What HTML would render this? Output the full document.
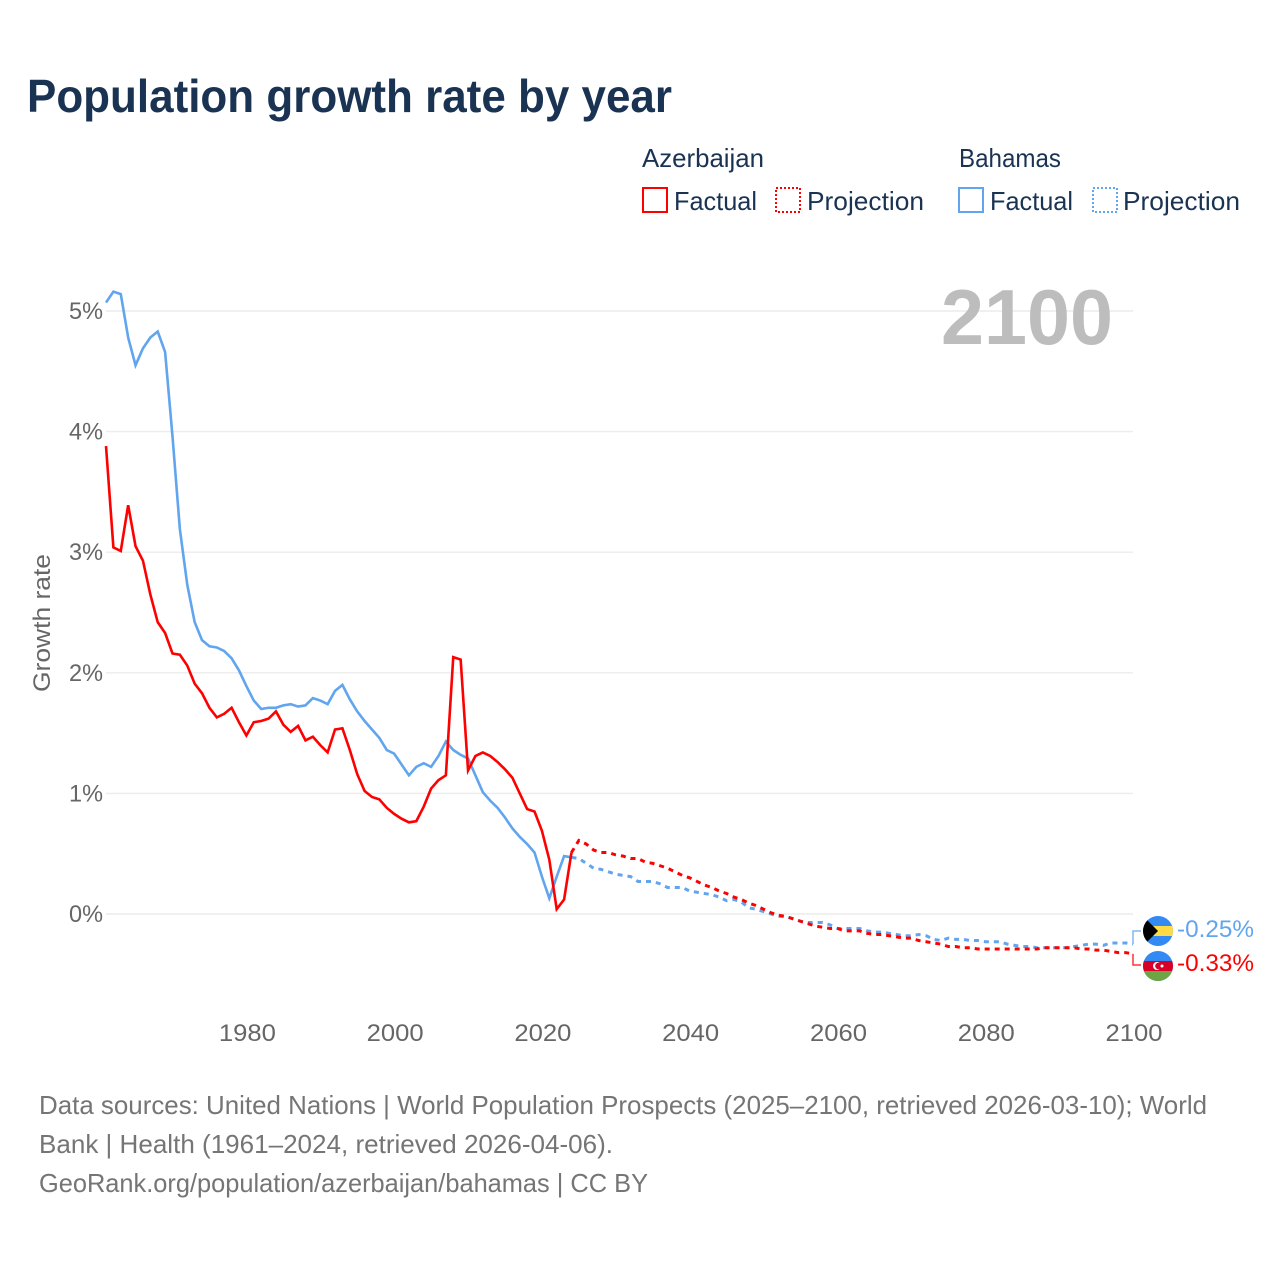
<!DOCTYPE html>
<html lang="en">
<head>
<meta charset="utf-8">
<title>Population growth rate by year</title>
<style>
html,body{margin:0;padding:0;background:#fff;width:1280px;height:1280px;overflow:hidden}
svg{display:block;font-family:"Liberation Sans",sans-serif}
.leg{font-size:26px;fill:#1a3353}
.foot{font-size:26px;fill:#757575}
.tick{font-size:24px;fill:#666}
</style>
</head>
<body>
<svg id="chart" width="1280" height="1280" viewBox="0 0 1280 1280" xmlns="http://www.w3.org/2000/svg">
  <defs>
    <clipPath id="clip-bs"><circle cx="1158" cy="931" r="15"/></clipPath>
    <clipPath id="clip-az"><circle cx="1158" cy="966" r="15"/></clipPath>
  </defs>
  <text x="27" y="112" font-size="46" font-weight="700" fill="#1a3353" textLength="645" lengthAdjust="spacingAndGlyphs">Population growth rate by year</text>

  <g>
    <text class="leg" x="642" y="167" textLength="122" lengthAdjust="spacingAndGlyphs">Azerbaijan</text>
    <rect x="643" y="188" width="24" height="24" fill="none" stroke="#f00" stroke-width="2"/>
    <text class="leg" x="674" y="210" textLength="83" lengthAdjust="spacingAndGlyphs">Factual</text>
    <rect x="776" y="188" width="24" height="24" fill="none" stroke="#f00" stroke-width="2" stroke-dasharray="2 2"/>
    <text class="leg" x="807" y="210" textLength="117" lengthAdjust="spacingAndGlyphs">Projection</text>
    <text class="leg" x="959" y="167" textLength="102" lengthAdjust="spacingAndGlyphs">Bahamas</text>
    <rect x="959" y="188" width="24" height="24" fill="none" stroke="#60a5ee" stroke-width="2"/>
    <text class="leg" x="990" y="210" textLength="83" lengthAdjust="spacingAndGlyphs">Factual</text>
    <rect x="1093" y="188" width="24" height="24" fill="none" stroke="#60a5ee" stroke-width="2" stroke-dasharray="2 2"/>
    <text class="leg" x="1123" y="210" textLength="117" lengthAdjust="spacingAndGlyphs">Projection</text>
  </g>

  <g id="grid"></g>
  <g id="yticks"></g>
  <g id="xticks"></g>
  <text transform="translate(50,692) rotate(-90)" font-size="24" fill="#666" textLength="138" lengthAdjust="spacingAndGlyphs">Growth rate</text>
  <text x="941" y="344" font-size="78" font-weight="700" fill="#bdbdbd" textLength="172" lengthAdjust="spacingAndGlyphs">2100</text>

  <g id="series"></g>

  <g>
    <g clip-path="url(#clip-bs)">
      <rect x="1143" y="916" width="30" height="30" fill="#338af3"/>
      <rect x="1143" y="926" width="30" height="10" fill="#ffda44"/>
      <polygon points="1143,916 1158,931 1143,946" fill="#000"/>
    </g>
    <text x="1177" y="937" font-size="24" fill="#60a5ee" textLength="77" lengthAdjust="spacingAndGlyphs">-0.25%</text>
  </g>
  <g>
    <g clip-path="url(#clip-az)">
      <rect x="1143" y="951" width="30" height="30" fill="#338af3"/>
      <rect x="1143" y="961" width="30" height="10" fill="#d80027"/>
      <rect x="1143" y="971" width="30" height="10" fill="#6da544"/>
      <circle cx="1157" cy="966" r="4" fill="#fff"/>
      <circle cx="1158.4" cy="966" r="3.2" fill="#d80027"/>
      <circle cx="1162" cy="966" r="1.5" fill="#fff"/>
    </g>
    <text x="1177" y="971" font-size="24" fill="#f00" textLength="77" lengthAdjust="spacingAndGlyphs">-0.33%</text>
  </g>

  <g>
    <text class="foot" x="39" y="1114" textLength="1168" lengthAdjust="spacingAndGlyphs">Data sources: United Nations | World Population Prospects (2025–2100, retrieved 2026-03-10); World</text>
    <text class="foot" x="39" y="1153" textLength="574" lengthAdjust="spacingAndGlyphs">Bank | Health (1961–2024, retrieved 2026-04-06).</text>
    <text class="foot" x="39" y="1192" textLength="609" lengthAdjust="spacingAndGlyphs">GeoRank.org/population/azerbaijan/bahamas | CC BY</text>
  </g>
</svg>
<script>
const factualStartYear = 1961;
const projectionStartYear = 2024;
const yTickValues = [0, 1, 2, 3, 4, 5];
const yTickLabels = ["0%", "1%", "2%", "3%", "4%", "5%"];
const xTickValues = [1980, 2000, 2020, 2040, 2060, 2080, 2100];
const xTickLabels = ["1980", "2000", "2020", "2040", "2060", "2080", "2100"];

// Growth rate in %, 1961–2024
const azerbaijanFactual = [3.88,3.04,3.01,3.39,3.05,2.93,2.65,2.42,2.33,2.16,
  2.15,2.06,1.91,1.83,1.71,1.63,1.66,1.71,1.59,1.48,
  1.59,1.60,1.62,1.68,1.57,1.51,1.56,1.44,1.47,1.40,
  1.34,1.53,1.54,1.36,1.16,1.02,0.97,0.95,0.88,0.83,
  0.79,0.76,0.77,0.89,1.04,1.11,1.15,2.13,2.11,1.19,
  1.31,1.34,1.31,1.26,1.20,1.13,1.00,0.87,0.85,0.69,
  0.45,0.04,0.12,0.51];
const bahamasFactual = [5.07,5.16,5.14,4.78,4.55,4.69,4.78,4.83,4.66,3.96,
  3.19,2.73,2.42,2.27,2.22,2.21,2.18,2.12,2.02,1.89,
  1.77,1.70,1.71,1.71,1.73,1.74,1.72,1.73,1.79,1.77,
  1.74,1.85,1.90,1.78,1.68,1.60,1.53,1.46,1.36,1.33,
  1.24,1.15,1.22,1.25,1.22,1.31,1.43,1.36,1.32,1.29,
  1.15,1.01,0.94,0.88,0.80,0.71,0.64,0.58,0.51,0.31,
  0.13,0.31,0.48,0.47];

// Growth rate in %, 2024–2100
const azerbaijanProjection = [0.51,0.61,0.58,0.53,0.51,0.51,0.49,0.48,0.46,0.46,
  0.43,0.42,0.40,0.38,0.35,0.32,0.30,0.27,0.24,0.22,
  0.19,0.17,0.14,0.12,0.09,0.07,0.04,0.01,-0.01,-0.02,
  -0.04,-0.06,-0.08,-0.10,-0.11,-0.12,-0.12,-0.14,-0.14,-0.14,
  -0.16,-0.17,-0.17,-0.18,-0.19,-0.20,-0.20,-0.22,-0.23,-0.24,
  -0.25,-0.27,-0.27,-0.28,-0.28,-0.29,-0.29,-0.29,-0.29,-0.29,
  -0.29,-0.29,-0.29,-0.29,-0.28,-0.28,-0.28,-0.28,-0.28,-0.29,
  -0.29,-0.30,-0.30,-0.31,-0.32,-0.32,-0.33];
const bahamasProjection = [0.47,0.46,0.42,0.38,0.37,0.35,0.33,0.32,0.31,0.27,
  0.27,0.27,0.25,0.22,0.22,0.22,0.19,0.18,0.17,0.16,
  0.14,0.11,0.12,0.10,0.05,0.04,0.02,0.00,-0.02,-0.02,
  -0.04,-0.06,-0.07,-0.07,-0.07,-0.09,-0.12,-0.12,-0.12,-0.12,
  -0.14,-0.15,-0.15,-0.16,-0.17,-0.18,-0.18,-0.17,-0.18,-0.21,
  -0.22,-0.20,-0.21,-0.21,-0.22,-0.22,-0.23,-0.23,-0.23,-0.25,
  -0.26,-0.27,-0.27,-0.28,-0.28,-0.28,-0.28,-0.28,-0.27,-0.26,
  -0.25,-0.25,-0.26,-0.24,-0.24,-0.24,-0.25];

const NS = "http://www.w3.org/2000/svg";
const xScale = year => 106 + (year - 1961) * (1133 - 106) / 139;
const yScale = value => 914 - value * 120.6;

const gridLayer = document.getElementById("grid");
const yTickLayer = document.getElementById("yticks");
const xTickLayer = document.getElementById("xticks");
const seriesLayer = document.getElementById("series");

yTickValues.forEach((value, i) => {
  const line = document.createElementNS(NS, "line");
  
  
  line.setAttribute("x1", 106);
  line.setAttribute("x2", 1133);
  line.setAttribute("y1", yScale(value));
  line.setAttribute("y2", yScale(value));
  line.setAttribute("stroke", "#ececec");
  line.setAttribute("stroke-width", "1.4");
  gridLayer.appendChild(line);

  const label = document.createElementNS(NS, "text");
  
  
  label.setAttribute("class", "tick");
  label.setAttribute("x", 69);
  label.setAttribute("y", yScale(value) + 8);
  label.setAttribute("textLength", 34);
  label.setAttribute("lengthAdjust", "spacingAndGlyphs");
  label.textContent = yTickLabels[i];
  yTickLayer.appendChild(label);
});

xTickValues.forEach((year, i) => {
  const label = document.createElementNS(NS, "text");
  
  
  label.setAttribute("class", "tick");
  label.setAttribute("x", xScale(year) - 27.5);
  label.setAttribute("y", 1041);
  label.setAttribute("textLength", 57);
  label.setAttribute("lengthAdjust", "spacingAndGlyphs");
  label.textContent = xTickLabels[i];
  xTickLayer.appendChild(label);
});

function pathFor(values, startYear) {
  return values.map((v, i) => (i ? "L" : "M") + xScale(startYear + i).toFixed(2) + " " + yScale(v).toFixed(2)).join(" ");
}

function addLine(values, startYear, color, dashed) {
  const path = document.createElementNS(NS, "path");
  path.setAttribute("d", pathFor(values, startYear));
  path.setAttribute("fill", "none");
  path.setAttribute("stroke", color);
  path.setAttribute("stroke-width", dashed ? "3" : "2.6");
  path.setAttribute("stroke-linejoin", "miter");
  if (dashed) path.setAttribute("stroke-dasharray", "5 5");
  seriesLayer.appendChild(path);
  return path;
}

const blueFactualLine = addLine(bahamasFactual, factualStartYear, "#60a5ee", false);



const blueProjectionLine = addLine(bahamasProjection, projectionStartYear, "#60a5ee", true);



const redFactualLine = addLine(azerbaijanFactual, factualStartYear, "#ff0000", false);



const redProjectionLine = addLine(azerbaijanProjection, projectionStartYear, "#ff0000", true);



function addConnector(lastValue, flagY, color) {
  const connector = document.createElementNS(NS, "path");
  const endX = xScale(2100);
  connector.setAttribute("d", "M" + endX + " " + yScale(lastValue) + " V" + flagY + " H" + (endX + 8));
  connector.setAttribute("fill", "none");
  connector.setAttribute("stroke", color);
  connector.setAttribute("stroke-width", "1.5");
  connector.setAttribute("opacity", "0.8");
  seriesLayer.appendChild(connector);
  return connector;
}

const blueConnector = addConnector(bahamasProjection[bahamasProjection.length - 1], 931, "#60a5ee");



const redConnector = addConnector(azerbaijanProjection[azerbaijanProjection.length - 1], 965, "#ff0000");


</script>
</body>
</html>
